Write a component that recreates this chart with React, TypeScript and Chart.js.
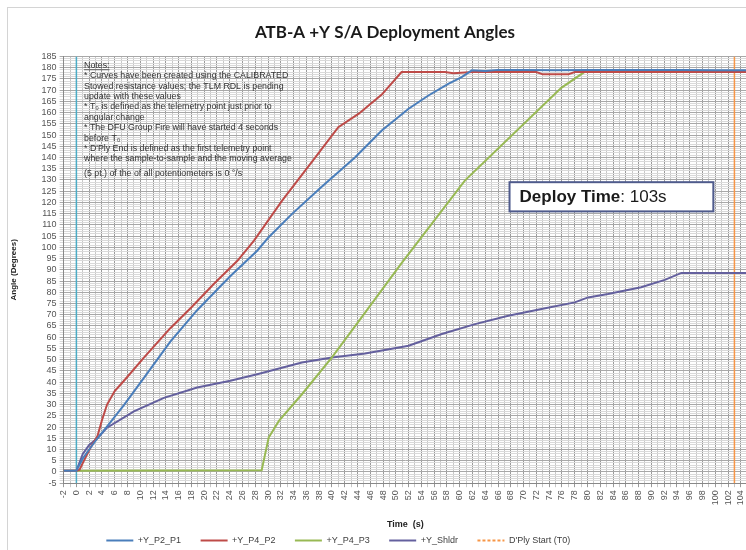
import React, { useEffect, useRef } from 'react';
import { Chart, registerables } from 'chart.js';

Chart.register(...registerables);

const titleText = 'ATB-A +Y S/A Deployment Angles';
const xTitle = 'Time  (s)';
const yTitle = 'Angle (Degrees)';

const xMin = -2;
const xMax = 105;
const yMin = -5;
const yMax = 185;

// +Y_P2_P1
const p2p1Time = [-2, -1, 0, 1, 2, 3.3, 5, 7.5, 10.6, 14.7, 18.9, 23, 24.4, 28.3, 30.1, 33.8, 38.4, 43.6, 47.8, 52, 55.1, 58.2, 60.3, 61.9, 64, 66, 70, 75, 80, 85, 90, 95, 100, 105];
const p2p1Vals = [0.5, 0.5, 0.5, 6, 10, 15, 21, 30, 42, 58, 72, 84, 88, 98.5, 104.5, 115, 127, 140, 152, 161.7, 167.6, 172.8, 175.8, 178.8, 178.5, 179, 179, 178.8, 179, 179, 179, 179, 178.8, 178.8];

// +Y_P4_P2
const p4p2Time = [-2, 0, 0.5, 1, 2.2, 3.3, 4, 4.8, 6, 7.45, 10.6, 14.7, 17.9, 21.5, 25.2, 27.8, 32.2, 37.4, 41, 44.2, 47.8, 50.9, 57.7, 59, 62, 70, 72, 73, 77, 78, 85, 95, 105];
const p4p2Vals = [0.5, 0.5, 1, 4, 10.8, 16, 23, 30, 36, 40.6, 51, 64, 73, 83.7, 94, 103, 120.8, 140, 153.5, 159.5, 168, 178, 178, 177.5, 178, 178, 178, 177, 177, 178, 178, 178, 178];

// +Y_P4_P3
const p4p3Time = [-2, 0, 29, 30.1, 31.7, 35.3, 40, 44.7, 50.9, 60.8, 75.9, 79.5, 85, 90, 95, 100, 105];
const p4p3Vals = [0.5, 0.5, 0.75, 15.3, 22.7, 34.6, 51, 69, 93, 129.7, 171, 178, 178, 178, 178, 178, 178];

// +Y_Shldr
const shldrTime = [-2, 0, 1, 2, 3.3, 4.8, 9, 13.7, 18.9, 24.1, 28.3, 35.3, 40, 45.2, 52, 57.2, 62.4, 67.6, 72.8, 78, 80.1, 83.2, 88.4, 92.1, 94.7, 100, 105];
const shldrVals = [0.5, 0.5, 8, 12, 15, 19.7, 27, 33, 37.6, 40.6, 43.5, 48.7, 51, 52.7, 56.2, 61.4, 65.8, 69.5, 72.5, 75.5, 77.7, 79.2, 82.2, 85.5, 88.6, 88.6, 88.6];

const deployStartTime = 0;
const deployEndTime = 103;

const seriesNames = ['+Y_P2_P1', '+Y_P4_P2', '+Y_P4_P3', '+Y_Shldr', "D'Ply Start (T0)"];
const seriesColors = ['#4a7ebb', '#be4b48', '#98b954', '#64609e', '#f79646'];
const startLineColor = '#4bacc6';

const notesLines = [
  'Notes:',
  '* Curves have been created using the CALIBRATED',
  'Stowed resistance values; the TLM RDL is pending',
  'update with these values',
  '* T\u2080 is defined as the telemetry point just prior to',
  'angular change',
  '* The DFU Group Fire will have started 4 seconds',
  'before T\u2080',
  "* D'Ply End is defined as the first telemetry point",
  'where the sample-to-sample and the moving average',
  '(5 pt.) of the of all potentiometers is 0 \u00b0/s',
];
const deployLabel = 'Deploy Time';
const deployValue = ': 103s';

const toPoints = (t: number[], v: number[]) => t.map((x, i) => ({ x, y: v[i] }));

const legendShiftPlugin = {
  id: 'legendShift',
  afterLayout(chart: any) {
    const lg = chart.legend;
    if (lg) {
      lg.left -= 40;
      lg.right -= 40;
    }
  },
};

const annotPlugin = {
  id: 'annot',
  afterDatasetsDraw(chart: any) {
    const { ctx, scales } = chart;
    const x = scales.x;
    const y = scales.y;
    ctx.save();
    // notes
    ctx.font = '8.8px "Liberation Sans", Arial, sans-serif';
    ctx.fillStyle = '#333333';
    ctx.textBaseline = 'middle';
    ctx.textAlign = 'left';
    const nx = x.getPixelForValue(1.2);
    let ny = y.getPixelForValue(181);
    notesLines.forEach((line, i) => {
      if (i === notesLines.length - 1) ny += 4;
      ctx.fillText(line, nx, ny);
      if (i === 0) {
        const w = ctx.measureText(line).width;
        ctx.fillRect(nx, ny + 4, w, 0.8);
      }
      ny += 10.4;
    });
    // deploy box
    const bx1 = x.getPixelForValue(67.8);
    const bx2 = x.getPixelForValue(99.7);
    const by1 = y.getPixelForValue(129);
    const by2 = y.getPixelForValue(116);
    ctx.fillStyle = '#ffffff';
    ctx.fillRect(bx1, by1, bx2 - bx1, by2 - by1);
    ctx.strokeStyle = '#4f5b8c';
    ctx.lineWidth = 2;
    ctx.strokeRect(bx1, by1, bx2 - bx1, by2 - by1);
    ctx.fillStyle = '#1a1a1a';
    ctx.font = 'bold 17px "Liberation Sans", Arial, sans-serif';
    const ty = (by1 + by2) / 2 + 1;
    ctx.fillText(deployLabel, bx1 + 10, ty);
    const lw = ctx.measureText(deployLabel).width;
    ctx.font = '17px "Liberation Sans", Arial, sans-serif';
    ctx.fillText(deployValue, bx1 + 10 + lw, ty);
    ctx.restore();
  },
};

export default function App() {
  const ref = useRef<HTMLCanvasElement | null>(null);
  useEffect(() => {
    if (!ref.current) return;
    const tickFont = { family: '"Liberation Sans", Arial, sans-serif', size: 9 };
    const chart = new Chart(ref.current, {
      type: 'line',
      data: {
        datasets: [
          { label: seriesNames[0], data: toPoints(p2p1Time, p2p1Vals), borderColor: seriesColors[0], backgroundColor: seriesColors[0], borderWidth: 2, pointRadius: 0, tension: 0 },
          { label: seriesNames[1], data: toPoints(p4p2Time, p4p2Vals), borderColor: seriesColors[1], backgroundColor: seriesColors[1], borderWidth: 2, pointRadius: 0, tension: 0 },
          { label: seriesNames[2], data: toPoints(p4p3Time, p4p3Vals), borderColor: seriesColors[2], backgroundColor: seriesColors[2], borderWidth: 2, pointRadius: 0, tension: 0 },
          { label: seriesNames[3], data: toPoints(shldrTime, shldrVals), borderColor: seriesColors[3], backgroundColor: seriesColors[3], borderWidth: 2, pointRadius: 0, tension: 0 },
          { label: seriesNames[4], data: [{ x: deployEndTime, y: yMin }, { x: deployEndTime, y: yMax }], borderColor: seriesColors[4], backgroundColor: seriesColors[4], borderWidth: 1.5, pointRadius: 0 },
          { label: '', data: [{ x: deployStartTime, y: yMin }, { x: deployStartTime, y: yMax }], borderColor: startLineColor, backgroundColor: startLineColor, borderWidth: 1.5, pointRadius: 0 },
        ],
      },
      options: {
        responsive: false,
        animation: false,
        layout: { padding: { left: 1, right: 0, top: 0, bottom: 0 } },
        plugins: {
          title: {
            display: true,
            text: titleText,
            font: { family: 'Lato, sans-serif', weight: 'bold', size: 17 },
            color: '#1a1a1a',
            padding: { top: 14, bottom: 14 },
          },
          legend: {
            position: 'bottom',
            labels: {
              usePointStyle: true,
              pointStyle: 'line',
              pointStyleWidth: 27,
              boxHeight: 8,
              padding: 6,
              color: '#404040',
              font: tickFont,
              generateLabels: (c: any) =>
                Chart.defaults.plugins.legend.labels
                  .generateLabels(c)
                  .filter((l: any) => l.text !== '')
                  .map((l: any) => ({
                    ...l,
                    text: l.text + '\u2003\u2002',
                    lineWidth: 2,
                    lineDash: l.datasetIndex === 4 ? [3, 2] : [],
                  })),
            },
          },
          tooltip: { enabled: false },
        },
        scales: {
          x: {
            type: 'linear',
            min: xMin,
            max: xMax,
            ticks: {
              stepSize: 1,
              autoSkip: false,
              maxRotation: 90,
              minRotation: 90,
              color: '#555555',
              font: tickFont,
              callback: (v: any) => (Number(v) % 2 === 0 ? String(v) : ''),
            },
            grid: {
              color: (c: any) => (c.tick && Number(c.tick.value) % 2 === 0 ? '#9a9a9a' : '#c8c8c8'),
              lineWidth: 1,
              tickLength: 4,
            },
            border: { color: '#888888' },
            title: { display: true, text: xTitle, color: '#222222', font: { family: '"Liberation Sans", Arial, sans-serif', size: 9, weight: 'bold' }, padding: { top: 11, bottom: 0 } },
          },
          y: {
            min: yMin,
            max: yMax,
            ticks: {
              stepSize: 1,
              autoSkip: false,
              color: '#555555',
              font: tickFont,
              callback: (v: any) => (Number(v) % 5 === 0 ? String(v) : ''),
            },
            grid: {
              color: (c: any) => (c.tick && Number(c.tick.value) % 5 === 0 ? '#a8a8a8' : '#dadada'),
              lineWidth: 1,
              tickLength: 4,
            },
            border: { color: '#888888' },
            title: { display: true, text: yTitle, color: '#222222', font: { family: '"Liberation Sans", Arial, sans-serif', size: 8, weight: 'bold' }, padding: { top: 0, bottom: 20 } },
          },
        },
      },
      plugins: [annotPlugin, legendShiftPlugin],
    } as any);
    return () => chart.destroy();
  }, []);
  return (
    <div style={{ position: 'fixed', left: 0, top: 0, width: 746, height: 550, background: '#ffffff', overflow: 'hidden' }}>
      <div style={{ position: 'absolute', left: 7, top: 7, width: 760, height: 560, border: '1px solid #d4d4d4', boxSizing: 'border-box' }} />
      <canvas ref={ref} width={753} height={547} style={{ position: 'absolute', left: 8, top: 8, width: 753, height: 547 }} />
    </div>
  );
}
